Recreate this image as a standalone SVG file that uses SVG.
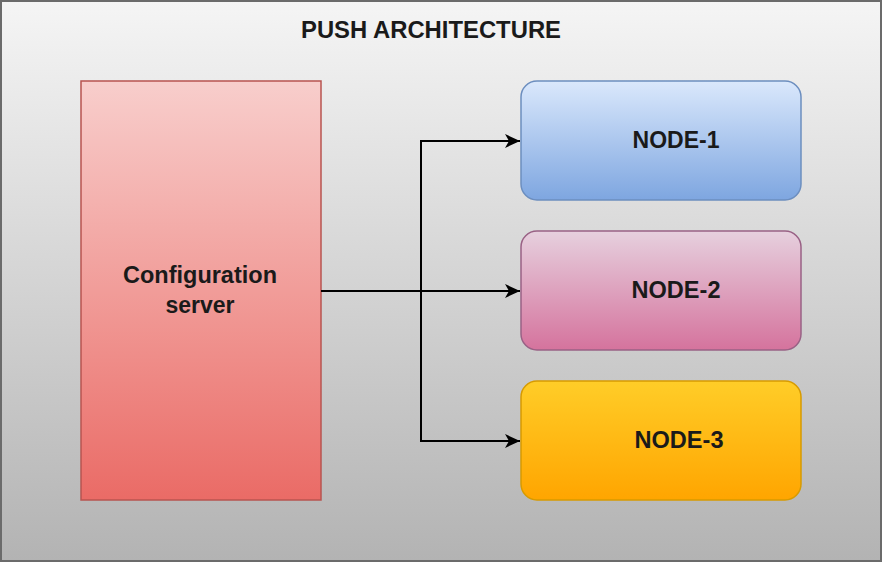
<svg xmlns="http://www.w3.org/2000/svg" width="882" height="562" viewBox="0 0 882 562">
<defs>
<linearGradient id="bg" x1="0" y1="0" x2="0" y2="1"><stop offset="0" stop-color="#f5f5f5"/><stop offset="1" stop-color="#b3b3b3"/></linearGradient>
<linearGradient id="gRed" x1="0" y1="0" x2="0" y2="1"><stop offset="0" stop-color="#f8cecc"/><stop offset="1" stop-color="#ea6b66"/></linearGradient>
<linearGradient id="gBlue" x1="0" y1="0" x2="0" y2="1"><stop offset="0" stop-color="#dae8fc"/><stop offset="1" stop-color="#7ea6e0"/></linearGradient>
<linearGradient id="gPink" x1="0" y1="0" x2="0" y2="1"><stop offset="0" stop-color="#e6d0de"/><stop offset="1" stop-color="#d5739d"/></linearGradient>
<linearGradient id="gOrange" x1="0" y1="0" x2="0" y2="1"><stop offset="0" stop-color="#ffcd28"/><stop offset="1" stop-color="#ffa500"/></linearGradient>
<marker id="arr" markerWidth="18" markerHeight="16" refX="16" refY="8" orient="auto" markerUnits="userSpaceOnUse">
<path d="M1,1 L16,8 L1,15 L5,8 Z" fill="#000"/>
</marker>
</defs>
<style>
text{font-family:"Liberation Sans",Arial,sans-serif;font-weight:bold;fill:#1a1a1a;text-anchor:middle;}
.t{font-size:23px;}
.c{fill:none;stroke:#000;stroke-width:2;}
</style>
<rect id="background" x="1" y="1" width="880" height="560" fill="url(#bg)" stroke="#6b6b6b" stroke-width="2"/>
<text id="title" class="t" x="431" y="38" textLength="260" lengthAdjust="spacingAndGlyphs">PUSH ARCHITECTURE</text>
<g id="config-server">
<rect x="81" y="81" width="240" height="419" fill="url(#gRed)" stroke="#b85450" stroke-width="1.5"/>
<text class="t" x="200" y="283" textLength="154" lengthAdjust="spacingAndGlyphs">Configuration</text>
<text class="t" x="200" y="313">server</text>
</g>
<g id="node-1">
<rect x="521" y="81" width="280" height="119" rx="16" fill="url(#gBlue)" stroke="#6c8ebf" stroke-width="1.5"/>
<text class="t" x="676" y="148" textLength="87" lengthAdjust="spacingAndGlyphs">NODE-1</text>
</g>
<g id="node-2">
<rect x="521" y="231" width="280" height="119" rx="16" fill="url(#gPink)" stroke="#996185" stroke-width="1.5"/>
<text class="t" x="676" y="298" textLength="89" lengthAdjust="spacingAndGlyphs">NODE-2</text>
</g>
<g id="node-3">
<rect x="521" y="381" width="280" height="119" rx="16" fill="url(#gOrange)" stroke="#d79b00" stroke-width="1.5"/>
<text class="t" x="679" y="448" textLength="89" lengthAdjust="spacingAndGlyphs">NODE-3</text>
</g>
<g id="connectors">
<path class="c" d="M321,291 L520,291" marker-end="url(#arr)"/>
<path class="c" d="M421,291 L421,141 L520,141" marker-end="url(#arr)"/>
<path class="c" d="M421,291 L421,441 L520,441" marker-end="url(#arr)"/>
</g>
</svg>
